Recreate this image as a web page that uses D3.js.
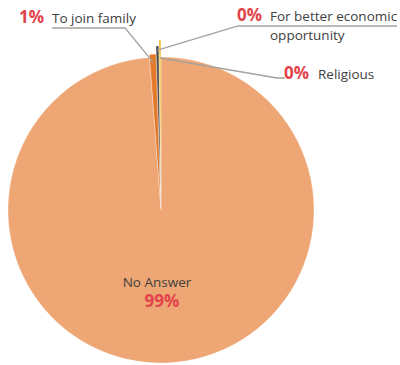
<!DOCTYPE html>
<html>
<head>
<meta charset="utf-8">
<script src="https://cdn.jsdelivr.net/npm/d3@7"></script>
<style>
  body { margin: 0; background: #fff; }
  svg { display: block; font-family: "Open Sans", sans-serif; }
</style>
</head>
<body>
<div id="container"></div>
<script>
/* DATA */
const categories = ["No Answer", "To join family", "For better economic opportunity", "Religious"];
const values = [98.8, 0.7, 0.3, 0.2];
const colors = ["#EDA674", "#E5792A", "#4D4D4D", "#F4BC2C"];

/* LAYOUT */
const width = 400, height = 365;
const cx = 161, cy = 210, radius = 153;
const explode = [0, 3, 11, 17];
// leader line: point on slice (radius along mid angle), elbow, end; text lines
const callouts = [
  null,
  { anchorR: 148, elbow: [125, 28], end: [52, 28], pct: [19, 23], lines: [[52, 23]] },
  { anchorR: 160, elbow: [238, 26], end: [397, 26], pct: [237, 21], lines: [[270, 21], [270, 40]],
    text: ["For better economic", "opportunity"] },
  { anchorR: 152, elbow: [277, 78], end: [285, 78], pct: [284, 79], lines: [[318, 79]] }
];

const data = categories.map((c, i) => ({ category: c, value: values[i], color: colors[i], i }));
const total = d3.sum(values);

const svg = d3.select("#container").append("svg")
  .attr("width", width)
  .attr("height", height);

const pie = d3.pie().sort(null).value(d => d.value);
const arcs = pie(data);
const arc = d3.arc().innerRadius(0).outerRadius(radius);

const g = svg.append("g").attr("transform", `translate(${cx},${cy})`);

// slices (small ones pulled out a bit)
g.selectAll("path")
  .data(arcs)
  .join("path")
    .attr("d", arc)
    .attr("fill", d => d.data.color)
    .attr("stroke", "#fff")
    .attr("stroke-width", 0.3)
    .attr("transform", d => {
      const a = (d.startAngle + d.endAngle) / 2;
      const e = explode[d.data.i];
      return `translate(${e * Math.sin(a)},${-e * Math.cos(a)})`;
    });

// callouts for the small slices
arcs.forEach(d => {
  const c = callouts[d.data.i];
  if (!c) return;
  const a = (d.startAngle + d.endAngle) / 2;
  const ax = cx + c.anchorR * Math.sin(a), ay = cy - c.anchorR * Math.cos(a);
  svg.append("polyline")
    .attr("points", [[ax, ay], c.elbow, c.end].map(p => p.join(",")).join(" "))
    .attr("fill", "none")
    .attr("stroke", "#A6A19C")
    .attr("stroke-width", 1.3);
  svg.append("text")
    .attr("x", c.pct[0]).attr("y", c.pct[1])
    .attr("font-size", 17).attr("font-weight", "bold")
    .attr("fill", "#E2434B")
    .text(Math.round(d.data.value / total * 100) + "%");
  const txt = c.text || [d.data.category];
  txt.forEach((t, k) => {
    svg.append("text")
      .attr("x", c.lines[k][0]).attr("y", c.lines[k][1])
      .attr("font-size", 13.5)
      .attr("fill", "#404040")
      .text(t);
  });
});

// label inside the big slice
const big = arcs[0];
svg.append("text")
  .attr("x", 157).attr("y", 287)
  .attr("text-anchor", "middle")
  .attr("font-size", 13.5)
  .attr("fill", "#404040")
  .text(big.data.category);
svg.append("text")
  .attr("x", 162).attr("y", 307)
  .attr("text-anchor", "middle")
  .attr("font-size", 17).attr("font-weight", "bold")
  .attr("fill", "#E2434B")
  .text(Math.round(big.data.value / total * 100) + "%");
</script>
</body>
</html>
